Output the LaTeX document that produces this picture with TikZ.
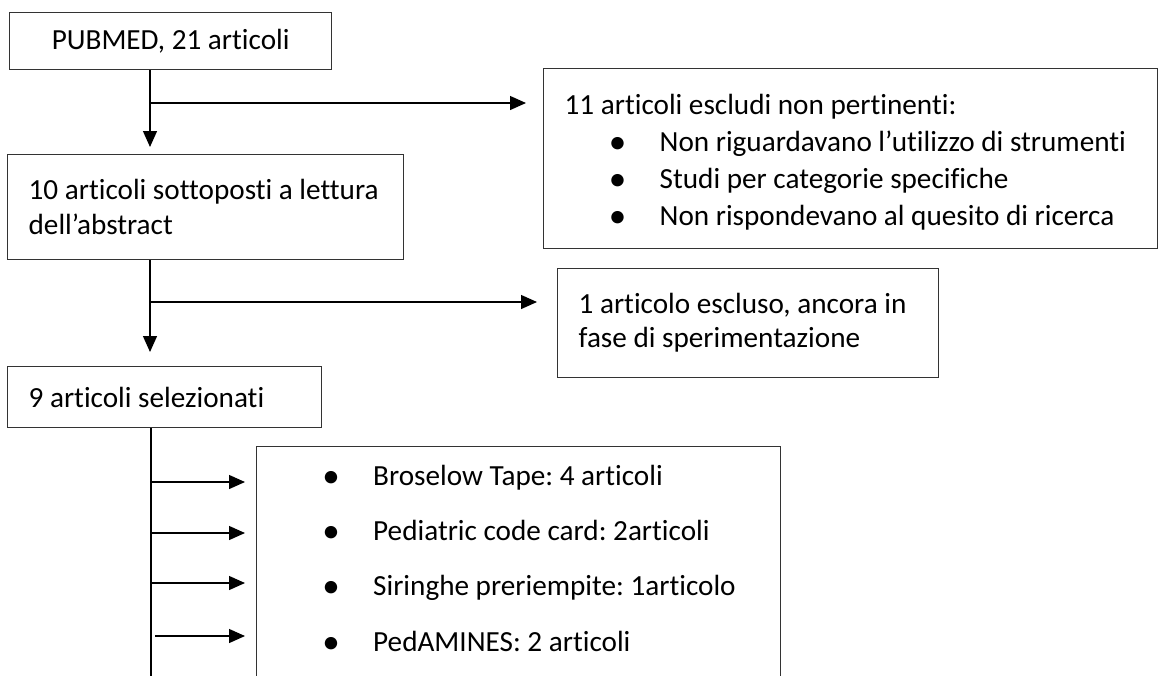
\documentclass[tikz,border=0pt]{standalone}
\usepackage{fontspec}
\setmainfont{Carlito}[Ligatures={TeX,NoCommon}]
\usetikzlibrary{arrows.meta}
\newcommand{\bul}{\raisebox{-2pt}{\scalebox{1.2}{•}}}
\begin{document}
\frenchspacing
\begin{tikzpicture}[x=1pt,y=-1pt,
  box/.style={draw=black!80, line width=1.3pt, anchor=north west, inner ysep=0pt, inner xsep=21pt},
  conn/.style={line width=1.3pt, draw=black},
  arr/.style={conn, -{Triangle[length=16pt,width=14pt]}},
  item/.style={anchor=base west, inner sep=0pt, font=\fontsize{29.2}{35}\selectfont\frenchspacing},
  fbig/.style={font=\fontsize{29.2}{#1}\selectfont\frenchspacing}]
\useasboundingbox (0,0) rectangle (1158,675);
\clip (0,0) rectangle (1158,675);
% boxes
\node[box, fbig=35, minimum width=322, minimum height=57] (b1) at (9,12) {PUBMED, 21 articoli};
\node[box, fbig=37, minimum width=614, minimum height=180, text width=572, align=flush left] (b2) at (543,68)
  {\rule{0pt}{28pt}11 articoli escludi non pertinenti:\\
   \hspace*{39pt}\makebox[28pt]{\bul}\hspace*{28pt}Non riguardavano l’utilizzo di strumenti\\
   \hspace*{39pt}\makebox[28pt]{\bul}\hspace*{28pt}Studi per categorie specifiche\\
   \hspace*{39pt}\makebox[28pt]{\bul}\hspace*{28pt}Non rispondevano al quesito di ricerca};
\node[box, fbig=35, minimum width=396, minimum height=105, text width=354, align=flush left] (b3) at (7,154)
  {10 articoli sottoposti a lettura\\dell’abstract};
\node[box, fbig=34, minimum width=381, minimum height=109, text width=339, align=flush left] (b4) at (557,268)
  {1 articolo escluso, ancora in\\fase di sperimentazione};
\node[box, fbig=35, minimum width=314, minimum height=61, text width=272, align=flush left] (b5) at (7,366)
  {9 articoli selezionati};
\node[box, minimum width=524, minimum height=260] (b6) at (256,446) {};
% items of the last box
\node[item] (i1) at (324,485) {\makebox[14pt]{\bul}\hspace*{35pt}Broselow Tape: 4 articoli};
\node[item] (i2) at (324,540) {\makebox[14pt]{\bul}\hspace*{35pt}Pediatric code card: 2articoli};
\node[item] (i3) at (324,595) {\makebox[14pt]{\bul}\hspace*{35pt}Siringhe preriempite: 1articolo};
\node[item] (i4) at (324,651) {\makebox[14pt]{\bul}\hspace*{35pt}PedAMINES: 2 articoli};
% connectors
\coordinate (j1) at (150,103);
\coordinate (j2) at (150,302);
\draw[arr, shorten >=7pt] (b1.south -| j1) -- (b3.north -| j1);
\draw[arr, shorten >=17pt] (j1) -- (j1 -| b2.west);
\draw[arr, shorten >=14pt] (b3.south -| j2) -- (b5.north -| j2);
\draw[arr, shorten >=20pt] (j2) -- (j2 -| b4.west);
\coordinate (spine) at (151,690);
\draw[conn] (b5.south -| spine) -- (spine);
\coordinate (a1) at (151,482);
\coordinate (a2) at (151,533);
\coordinate (a3) at (151,583);
\coordinate (a4) at (155,636);
\draw[arr, shorten >=11pt] (a1) -- (a1 -| b6.west);
\draw[arr, shorten >=11pt] (a2) -- (a2 -| b6.west);
\draw[arr, shorten >=11pt] (a3) -- (a3 -| b6.west);
\draw[arr, shorten >=11pt] (a4) -- (a4 -| b6.west);
\end{tikzpicture}
\end{document}
